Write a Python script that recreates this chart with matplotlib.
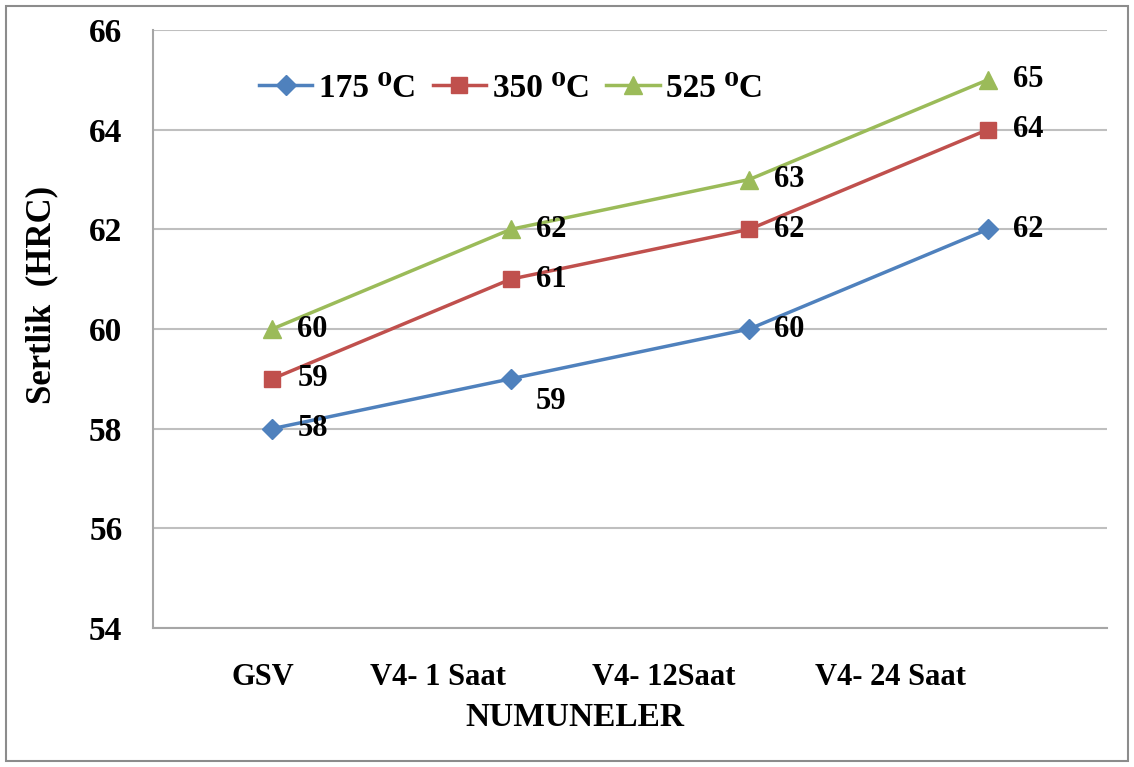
import matplotlib.pyplot as plt
from matplotlib.transforms import ScaledTranslation

plt.rcParams['font.family'] = ['Liberation Serif', 'DejaVu Serif']
plt.rcParams['font.weight'] = 'bold'

categories = ['GSV', 'V4- 1 Saat', 'V4- 12Saat', 'V4- 24 Saat']
series_names = ['175 \u2070C', '350 \u2070C', '525 \u2070C']
hrc_175 = [58, 59, 60, 62]
hrc_350 = [59, 61, 62, 64]
hrc_525 = [60, 62, 63, 65]

fig = plt.figure(figsize=(11.34, 7.67), dpi=100)
# plot area placed in pixels: left 153, top 30, right 1107, bottom 628
ax = fig.add_axes([153 / 1134, 1 - 628 / 767, 954 / 1134, 598 / 767])

x = list(range(len(categories)))
styles = [
    (hrc_175, '#4F81BD', 'D', 10),
    (hrc_350, '#C0504D', 's', 12),
    (hrc_525, '#9BBB59', '^', 13),
]
for (vals, col, mk, ms), name in zip(styles, series_names):
    ax.plot(x, vals, color=col, marker=mk, markersize=ms, linewidth=2.5, label=name)
    for i, v in enumerate(vals):
        dy = 0
        if vals is hrc_175 and i == 1:
            dy = -16  # this one sits below the line
        ax.annotate(str(v), (i, v), xytext=(18, dy), textcoords='offset points',
                    va='center', ha='left', fontsize=22, fontweight='bold')

ax.set_xlim(-0.5, 3.5)
ax.set_ylim(54, 66)
ax.set_yticks(range(54, 67, 2))
ax.set_xticks(x)
ax.set_xticklabels(categories)
ax.tick_params(axis='both', length=0)
ax.tick_params(axis='x', pad=25, labelsize=22)
ax.tick_params(axis='y', pad=22, labelsize=24)
for lab in ax.get_xticklabels() + ax.get_yticklabels():
    lab.set_fontweight('bold')

# category labels drift left of their points
label_shift_px = [-9, -73, -85, -97]
for lab, dx in zip(ax.get_xticklabels(), label_shift_px):
    lab.set_transform(lab.get_transform() + ScaledTranslation(dx / 100, 0, fig.dpi_scale_trans))

ax.grid(axis='y', color='#BFBFBF', linewidth=1.5)
ax.set_axisbelow(True)
for side in ['top', 'right']:
    ax.spines[side].set_visible(False)
for side in ['left', 'bottom']:
    ax.spines[side].set_color('#A6A6A6')
    ax.spines[side].set_linewidth(1.5)

ax.set_xlabel('NUMUNELER', fontsize=24, fontweight='bold', va='center')
ax.xaxis.set_label_coords(0.442, -0.149)
ax.set_ylabel('Sertlik  (HRC)', fontsize=25, fontweight='bold', va='center')
ax.yaxis.set_label_coords(-0.117, 0.557)

ax.legend(loc='center left', bbox_to_anchor=(0.111, 0.903), ncol=3, frameon=False,
          handlelength=1.6, handletextpad=0.2, columnspacing=0.5, borderpad=0,
          borderaxespad=0, prop={'weight': 'bold', 'size': 24})

fig.patches.append(plt.Rectangle((6 / 1134, 6 / 767), 1122 / 1134, 755 / 767,
                                 transform=fig.transFigure, fill=False,
                                 edgecolor='#8C8C8C', linewidth=1.5))

fig.savefig('out.png', dpi=100)
